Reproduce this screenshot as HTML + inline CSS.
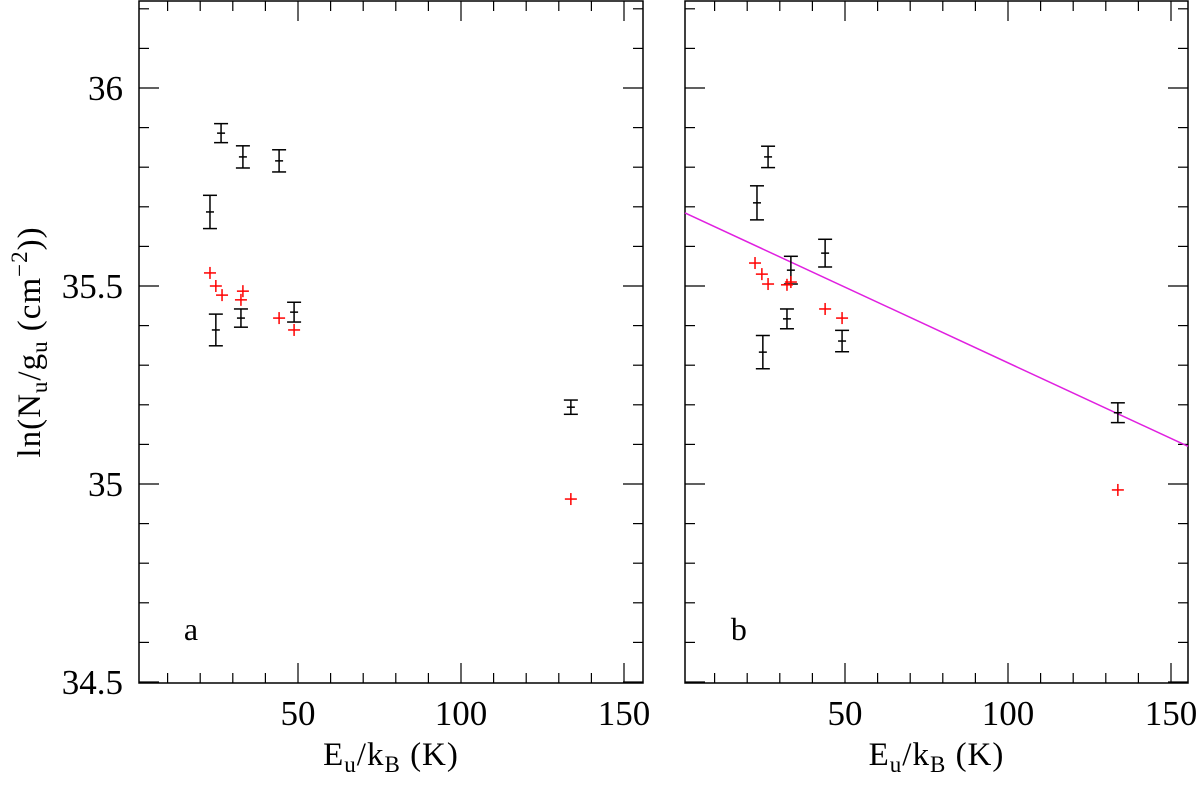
<!DOCTYPE html>
<html><head><meta charset="utf-8"><style>
body{margin:0;background:#fff}
svg text{font-family:"Liberation Serif",serif;fill:#000}
</style></head><body>
<svg id="chart" width="1200" height="780" xmlns="http://www.w3.org/2000/svg"></svg>
<script>
const xTicks=[50,100,150];
const yTicks=[34.5,35,35.5,36];
const aBlackX=[26.4,33.1,44.2,23.0,24.8,32.5,48.8,133.7];
const aBlackY=[35.886,35.826,35.816,35.687,35.389,35.419,35.434,35.194];
const aBlackErr=[0.024,0.028,0.028,0.042,0.04,0.023,0.025,0.018];
const aRedX=[23.0,24.8,26.7,33.1,32.5,44.2,48.8,133.7];
const aRedY=[35.533,35.5,35.477,35.487,35.465,35.419,35.389,34.962];
const bBlackX=[26.4,23.0,33.4,43.9,24.8,32.2,49.1,133.7];
const bBlackY=[35.826,35.71,35.54,35.583,35.333,35.417,35.361,35.18];
const bBlackErr=[0.027,0.043,0.035,0.035,0.042,0.025,0.027,0.025];
const bRedX=[22.4,24.5,26.4,32.2,33.4,43.9,49.1,133.7];
const bRedY=[35.558,35.53,35.505,35.503,35.51,35.442,35.419,34.985];
const fitIntercept=35.688;
const fitSlope=-0.00382;

const svg=document.getElementById('chart');
const NS='http://www.w3.org/2000/svg';
function el(tag,attrs,parent){const e=document.createElementNS(NS,tag);for(const k in attrs)e.setAttribute(k,attrs[k]);(parent||svg).appendChild(e);return e;}
const Y=v=>88+(36-v)*396;
const panels=[{l:139,r:643,x0:135,label:'a',bx:aBlackX,by:aBlackY,be:aBlackErr,rx:aRedX,ry:aRedY,fit:false},
{l:685,r:1188,x0:682,label:'b',bx:bBlackX,by:bBlackY,be:bBlackErr,rx:bRedX,ry:bRedY,fit:true}];
const topY=1,botY=683;
panels.forEach((p,pi)=>{
 const X=v=>p.x0+v*3.26;
 const g=el('g',{});
 
 
 const fr=el('rect',{x:p.l,y:topY,width:p.r-p.l,height:botY-topY,fill:'none',stroke:'#000','stroke-width':1.5},g);
 
 
 for(let v=10;v<=150;v+=10){const px=X(v);const len=v%50===0?20:10;
  el('line',{x1:px,x2:px,y1:botY,y2:botY-len,stroke:'#000','stroke-width':1.2},g);
  el('line',{x1:px,x2:px,y1:topY,y2:topY+len,stroke:'#000','stroke-width':1.2},g);}
 for(let i=0;i<=17;i++){const v=34.5+i*0.1;const py=Y(v);if(py<topY||py>botY)continue;const major=Math.abs(v*2-Math.round(v*2))<1e-6;const len=major?20:10;
  el('line',{x1:p.l,x2:p.l+len,y1:py,y2:py,stroke:'#000','stroke-width':1.2},g);
  el('line',{x1:p.r,x2:p.r-len,y1:py,y2:py,stroke:'#000','stroke-width':1.2},g);}
 xTicks.forEach(v=>{const t=el('text',{x:X(v),y:725,'font-size':35,'text-anchor':'middle'},g);t.textContent=v;
  });
 if(pi===0)yTicks.forEach(v=>{const t=el('text',{x:123,y:Y(v)+12,'font-size':35,'text-anchor':'end'},g);t.textContent=v;
  });
 const xt=el('text',{x:(p.l+p.r)/2,y:765,'font-size':33,'text-anchor':'middle','letter-spacing':1},g);
 xt.innerHTML='E<tspan font-size="23" dy="7">u</tspan><tspan dy="-7">/k</tspan><tspan font-size="23" dy="7">B</tspan><tspan dy="-7">  (K)</tspan>';
 
 const lb=el('text',{x:X(15),y:640,'font-size':32},g);lb.textContent=p.label;
 
 if(p.fit){const ln=el('line',{x1:p.l,y1:Y(fitIntercept+fitSlope*((p.l-p.x0)/3.26)),x2:p.r,y2:Y(fitIntercept+fitSlope*((p.r-p.x0)/3.26)),stroke:'#e020e0','stroke-width':1.5},g);
  }
 p.bx.forEach((xv,i)=>{const px=X(xv),py=Y(p.by[i]),e=p.be[i]*396;
  const pg=el('g',{stroke:'#000','stroke-width':1.5},g);
  
  el('line',{x1:px,x2:px,y1:py-e,y2:py+e},pg);
  el('line',{x1:px-7,x2:px+7,y1:py-e,y2:py-e},pg);
  el('line',{x1:px-7,x2:px+7,y1:py+e,y2:py+e},pg);
  el('line',{x1:px-4,x2:px+4,y1:py,y2:py},pg);});
 p.rx.forEach((xv,i)=>{const px=X(xv),py=Y(p.ry[i]);
  const pg=el('g',{stroke:'#ff0000','stroke-width':1.5},g);
  
  el('line',{x1:px-6,x2:px+6,y1:py,y2:py},pg);
  el('line',{x1:px,x2:px,y1:py-6,y2:py+6},pg);});
});
const yt=el('text',{transform:'translate(40,342) rotate(-90)','font-size':33,'text-anchor':'middle','letter-spacing':1});
yt.innerHTML='ln(N<tspan font-size="23" dy="7">u</tspan><tspan dy="-7">/g</tspan><tspan font-size="23" dy="7">u</tspan><tspan dy="-7">  (cm</tspan><tspan font-size="23" dy="-13">−2</tspan><tspan dy="13">))</tspan>';


</script>
</body></html>
